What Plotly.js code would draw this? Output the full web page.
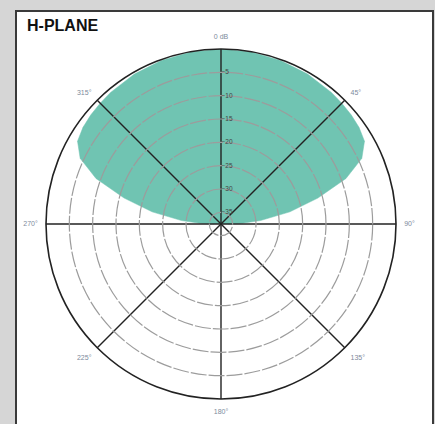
<!DOCTYPE html>
<html>
<head>
<meta charset="utf-8">
<script src="https://cdn.plot.ly/plotly-3.0.1.min.js"></script>
<style>
  html, body { margin: 0; padding: 0; width: 435px; height: 424px; background: #d6d6d6; overflow: hidden; }
  #frame { position: absolute; left: 15px; top: 10px; width: 419px; height: 420px; background: #ffffff;
           border-left: 2px solid #3a3a3a; border-top: 2px solid #3a3a3a; border-right: 2px solid #3a3a3a; box-sizing: border-box; }
  #chart { position: absolute; left: 0; top: 0; width: 435px; height: 424px; }
</style>
</head>
<body>
<div id="frame"></div>
<div id="chart"></div>
<script>
// Pattern data (angle in degrees, clockwise from top; level in dB)
const patternAngles = [-90, -88, -85, -80, -75, -70, -65, -60, -55, -50, -45, -40, -30, -20, -10, 0,
                       10, 20, 30, 40, 45, 50, 55, 60, 65, 70, 75, 80, 85, 88, 90];
const patternDb = [-36, -33, -29, -22.5, -16, -9, -4.2, -2, -1.4, -1.1, -0.9, -0.7, -0.4, -0.2, -0.1, 0,
                   -0.1, -0.2, -0.4, -0.7, -0.9, -1.1, -1.4, -2, -4.2, -9, -16, -22.5, -29, -33, -36];

// Radial (dB) ticks
const radialTickVals = [-35, -30, -25, -20, -15, -10, -5, 0];
const radialTickText = ['−35', '−30', '−25', '−20', '−15', '−10', '−5', ''];
const radialRange = [-37.5, 0];

// Angular ticks
const angularTickVals = [0, 45, 90, 135, 180, 225, 270, 315];
const angularTickText = ['0 dB', '45°', '90°', '135°', '180°', '225°', '270°', '315°'];

const domainX = [46 / 435, 396 / 435];
const domainY = [(424 - 399) / 424, (424 - 49) / 424];

const traces = [
  {
    type: 'scatterpolar',
    subplot: 'polar',
    r: patternDb,
    theta: patternAngles,
    mode: 'lines',
    fill: 'toself',
    fillcolor: 'rgb(112,196,178)',
    line: { color: 'rgb(112,196,178)', width: 0.5 },
    hoverinfo: 'skip',
    showlegend: false
  },
  {
    type: 'scatterpolar',
    subplot: 'polar2',
    r: [radialRange[0]],
    theta: [0],
    mode: 'markers',
    marker: { size: 0.1, opacity: 0 },
    hoverinfo: 'skip',
    showlegend: false
  }
];

const hiddenAxes = {
  radialaxis: { range: radialRange, showgrid: false, showline: false, showticklabels: false, ticks: '' },
  angularaxis: { rotation: 90, direction: 'clockwise', showgrid: false, showline: false, showticklabels: false, ticks: '' }
};

const layout = {
  width: 435,
  height: 424,
  margin: { l: 0, r: 0, t: 0, b: 0 },
  paper_bgcolor: 'rgba(0,0,0,0)',
  plot_bgcolor: 'rgba(0,0,0,0)',
  showlegend: false,
  title: {
    text: '<b>H-PLANE</b>',
    x: 27 / 435, xanchor: 'left',
    y: 1 - 25 / 424, yanchor: 'middle',
    font: { family: 'Liberation Sans, Arial, sans-serif', size: 16, color: '#111111' }
  },
  polar: Object.assign({
    domain: { x: domainX, y: domainY },
    bgcolor: 'rgba(0,0,0,0)',
    hole: 0
  }, hiddenAxes),
  polar2: {
    domain: { x: domainX, y: domainY },
    bgcolor: 'rgba(0,0,0,0)',
    hole: 0,
    radialaxis: {
      range: radialRange,
      tickmode: 'array',
      tickvals: radialTickVals,
      ticktext: radialTickText,
      angle: 90,
      side: 'clockwise',
      tickangle: 90,
      showline: false,
      ticks: '',
      showgrid: true,
      gridcolor: '#9c9c9c',
      gridwidth: 1.2,
      griddash: '16px,2px',
      tickfont: { family: 'Liberation Sans, Arial, sans-serif', size: 6.5, color: '#444444' }
    },
    angularaxis: {
      rotation: 90,
      direction: 'clockwise',
      tickmode: 'array',
      tickvals: angularTickVals,
      ticktext: angularTickText,
      ticks: 'outside',
      ticklen: 6,
      tickcolor: 'rgba(0,0,0,0)',
      showline: true,
      linecolor: '#222222',
      linewidth: 1.6,
      showgrid: true,
      gridcolor: '#222222',
      gridwidth: 1.4,
      tickfont: { family: 'Liberation Sans, Arial, sans-serif', size: 7, color: '#7d8a9c' }
    }
  }
};

Plotly.newPlot('chart', traces, layout, { staticPlot: true, displayModeBar: false });
</script>
</body>
</html>
